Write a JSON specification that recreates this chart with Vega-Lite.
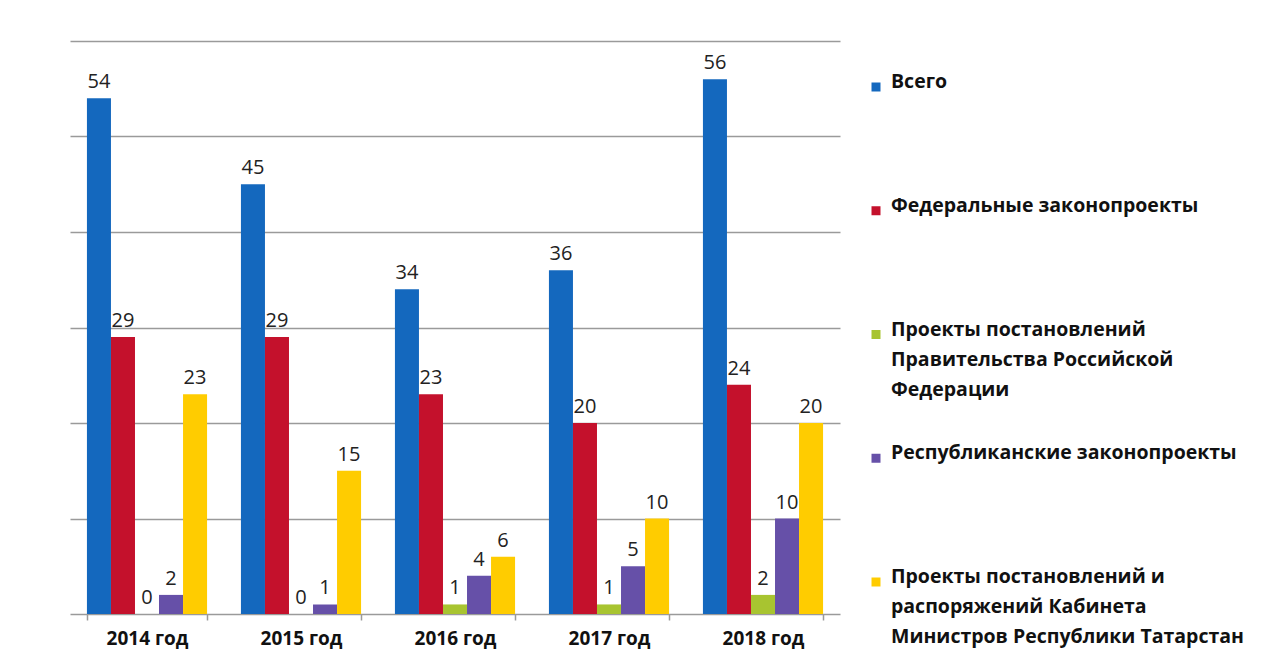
{
  "$schema": "https://vega.github.io/schema/vega-lite/v6.json",
  "padding": {"left": 70, "top": 41, "right": 8, "bottom": 4},
  "background": "white",
  "config": {
    "view": {"stroke": null},
    "font": "Open Sans"
  },
  "datasets": {
    "bars": [
      {"year": "2014 год", "series": "Всего", "value": 54},
      {"year": "2014 год", "series": "Федеральные законопроекты", "value": 29},
      {"year": "2014 год", "series": "Проекты постановлений Правительства Российской Федерации", "value": 0},
      {"year": "2014 год", "series": "Республиканские законопроекты", "value": 2},
      {"year": "2014 год", "series": "Проекты постановлений и распоряжений Кабинета Министров Республики Татарстан", "value": 23},
      {"year": "2015 год", "series": "Всего", "value": 45},
      {"year": "2015 год", "series": "Федеральные законопроекты", "value": 29},
      {"year": "2015 год", "series": "Проекты постановлений Правительства Российской Федерации", "value": 0},
      {"year": "2015 год", "series": "Республиканские законопроекты", "value": 1},
      {"year": "2015 год", "series": "Проекты постановлений и распоряжений Кабинета Министров Республики Татарстан", "value": 15},
      {"year": "2016 год", "series": "Всего", "value": 34},
      {"year": "2016 год", "series": "Федеральные законопроекты", "value": 23},
      {"year": "2016 год", "series": "Проекты постановлений Правительства Российской Федерации", "value": 1},
      {"year": "2016 год", "series": "Республиканские законопроекты", "value": 4},
      {"year": "2016 год", "series": "Проекты постановлений и распоряжений Кабинета Министров Республики Татарстан", "value": 6},
      {"year": "2017 год", "series": "Всего", "value": 36},
      {"year": "2017 год", "series": "Федеральные законопроекты", "value": 20},
      {"year": "2017 год", "series": "Проекты постановлений Правительства Российской Федерации", "value": 1},
      {"year": "2017 год", "series": "Республиканские законопроекты", "value": 5},
      {"year": "2017 год", "series": "Проекты постановлений и распоряжений Кабинета Министров Республики Татарстан", "value": 10},
      {"year": "2018 год", "series": "Всего", "value": 56},
      {"year": "2018 год", "series": "Федеральные законопроекты", "value": 24},
      {"year": "2018 год", "series": "Проекты постановлений Правительства Российской Федерации", "value": 2},
      {"year": "2018 год", "series": "Республиканские законопроекты", "value": 10},
      {"year": "2018 год", "series": "Проекты постановлений и распоряжений Кабинета Министров Республики Татарстан", "value": 20}
    ],
    "legend": [
      {"series": "Всего", "label": "Всего"},
      {"series": "Федеральные законопроекты", "label": "Федеральные законопроекты"},
      {"series": "Проекты постановлений Правительства Российской Федерации", "label": "Проекты постановлений\nПравительства Российской\nФедерации"},
      {"series": "Республиканские законопроекты", "label": "Республиканские законопроекты"},
      {"series": "Проекты постановлений и распоряжений Кабинета Министров Республики Татарстан", "label": "Проекты постановлений и\nраспоряжений Кабинета\nМинистров Республики Татарстан"}
    ]
  },
  "spacing": 28,
  "hconcat": [
    {
      "width": 770,
      "height": 573,
      "data": {"name": "bars"},
      "encoding": {
        "x": {
          "field": "year", "type": "nominal", "sort": null, "title": null,
          "scale": {"paddingInner": 0.22, "paddingOuter": 0.11},
          "axis": {
            "labelAngle": 0, "labelFont": "Open Sans", "labelFontSize": 19, "labelFontWeight": "bold",
            "labelColor": "#111111", "labelPadding": 9, "tickBand": "extent", "tickSize": 6,
            "tickColor": "#9a9a9a", "domainColor": "#9a9a9a", "domainWidth": 1.5, "tickWidth": 1.5
          }
        },
        "xOffset": {
          "field": "series", "type": "nominal", "sort": null,
          "scale": {"paddingInner": 0, "paddingOuter": 0}
        },
        "y": {
          "field": "value", "type": "quantitative", "title": null,
          "scale": {"domain": [0, 60], "nice": false},
          "axis": {
            "labels": false, "ticks": false, "domain": false, "grid": true,
            "values": [10, 20, 30, 40, 50, 60], "gridColor": "#9a9a9a", "gridWidth": 1.5,
            "minExtent": 0, "maxExtent": 0
          }
        }
      },
      "layer": [
        {
          "mark": {"type": "bar"},
          "encoding": {
            "color": {
              "field": "series", "type": "nominal", "sort": null, "legend": null,
              "scale": {
                "domain": ["Всего", "Федеральные законопроекты", "Проекты постановлений Правительства Российской Федерации", "Республиканские законопроекты", "Проекты постановлений и распоряжений Кабинета Министров Республики Татарстан"],
                "range": ["#1468be", "#c4112c", "#a8c430", "#6650a8", "#ffcc00"]
              }
            }
          }
        },
        {
          "mark": {"type": "text", "baseline": "bottom", "dy": -6, "fontSize": 20, "color": "#222222", "font": "Open Sans"},
          "encoding": {"text": {"field": "value", "type": "quantitative"}}
        }
      ]
    },
    {
      "width": 16,
      "height": 573,
      "data": {"name": "legend"},
      "encoding": {
        "y": {
          "field": "series", "type": "nominal", "sort": null, "axis": null,
          "scale": {"type": "point", "range": [46, 541], "padding": 0}
        }
      },
      "layer": [
        {
          "mark": {"type": "point", "shape": "square", "filled": true, "size": 81, "opacity": 1},
          "encoding": {
            "color": {
              "field": "series", "type": "nominal", "sort": null, "legend": null,
              "scale": {
                "domain": ["Всего", "Федеральные законопроекты", "Проекты постановлений Правительства Российской Федерации", "Республиканские законопроекты", "Проекты постановлений и распоряжений Кабинета Министров Республики Татарстан"],
                "range": ["#1468be", "#c4112c", "#a8c430", "#6650a8", "#ffcc00"]
              }
            }
          }
        },
        {
          "mark": {"type": "text", "align": "left", "baseline": "top", "dx": 15, "dy": -14, "fontSize": 19.5, "fontWeight": "bold", "lineBreak": "\n", "lineHeight": 30, "color": "#111111", "font": "Open Sans"},
          "encoding": {"text": {"field": "label"}}
        }
      ]
    }
  ]
}
